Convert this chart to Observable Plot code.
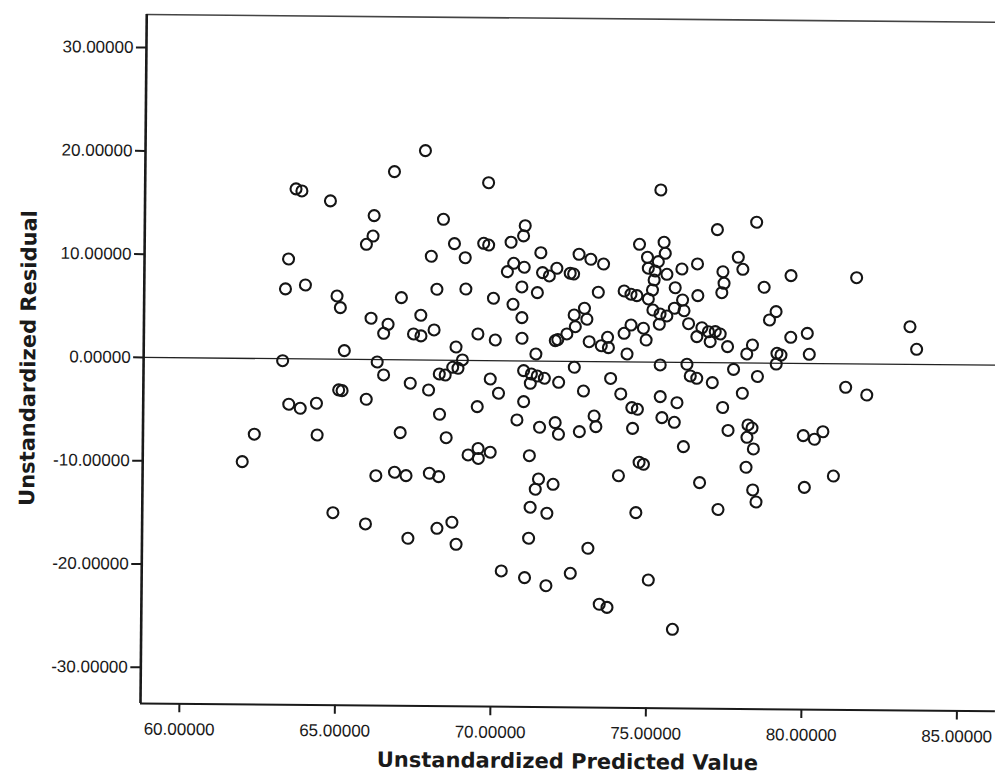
<!DOCTYPE html>
<html>
<head>
<meta charset="utf-8">
<script src="https://cdn.jsdelivr.net/npm/d3@7"></script>
<script src="https://cdn.jsdelivr.net/npm/@observablehq/plot@0.6"></script>
<style>
  html, body { margin: 0; padding: 0; background: #fff; overflow: hidden; }
  #chart svg { display: block; transform-origin: 140px 703px; transform: rotate(0.52deg); }
</style>
</head>
<body>
<div id="chart"></div>
<script>
// ---- data ----
const xTitle = "Unstandardized Predicted Value";
const yTitle = "Unstandardized Residual";
const xTicks = [60, 65, 70, 75, 80, 85];
const yTicks = [-30, -20, -10, 0, 10, 20, 30];
const xDomain = [58.75, 86.24];
const yDomain = [-33.5, 33.2];

const predicted = [
  67.75,66.76,63.60,63.79,64.71,66.12,68.35,66.09,65.88,68.71,63.38,67.97,69.06,63.29,63.93,64.95,65.06,67.02,68.16,69.09,66.05,66.60,66.46,67.65,67.42,67.66,68.08,69.49,65.20,63.22,66.26,66.47,68.79,69.00,68.86,68.69,68.26,68.45,
  69.79,75.33,77.16,70.98,70.93,69.65,69.81,70.53,71.49,70.62,70.42,70.96,71.55,71.77,72.01,72.44,72.55,72.72,73.10,73.51,70.89,71.39,69.98,70.61,70.90,70.05,70.91,71.36,71.98,72.06,72.35,72.62,72.58,72.91,72.99,73.07,73.46,73.66,73.69,73.35,74.29,74.19,74.41,74.81,74.90,74.18,74.40,74.59,74.66,75.45,75.49,74.92,75.27,74.95,75.17,75.55,75.14,75.09,74.96,75.82,76.03,76.53,76.06,75.80,76.11,75.11,75.34,75.56,75.32,76.26,76.55,77.35,77.39,77.32,76.69,76.90,77.12,76.53,76.96,77.28,77.52,75.36,76.22,76.33,76.54,72.60,70.97,71.22,71.41,71.64,71.19,69.90,73.77,77.04,72.10,
  70.17,69.49,70.98,72.90,74.10,75.37,75.91,74.46,74.64,77.38,70.77,71.50,72.00,72.11,72.78,73.25,73.31,74.49,75.43,75.83,77.56,76.13,69.53,69.54,69.92,71.18,74.71,74.85,74.05,71.48,71.38,71.95,76.66,71.22,71.76,74.62,77.26,71.18,73.09,70.31,71.06,71.75,72.53,75.04,73.47,73.72,75.83,
  67.33,67.92,65.03,65.14,63.43,63.80,64.32,65.92,68.28,62.33,64.35,67.02,68.50,69.21,61.95,66.25,66.85,67.22,67.97,68.27,64.88,65.93,67.30,68.23,68.71,68.85,
  78.42,77.84,77.99,79.54,78.68,81.65,79.07,78.86,78.32,78.14,79.55,80.08,79.11,79.24,79.09,80.15,83.38,83.60,77.72,78.49,
  78.01,81.33,82.01,78.20,78.33,78.17,78.38,79.98,80.34,80.61,78.15,78.37,78.48,80.03,80.96
];

const residual = [
  20.27,18.21,16.45,16.26,15.32,13.93,13.64,11.96,11.15,11.29,9.66,10.05,9.94,6.76,7.16,6.12,5.00,6.02,6.86,6.91,4.00,3.43,2.55,4.33,2.51,2.33,2.92,2.57,0.84,-0.19,-0.23,-1.48,1.29,0.04,-0.77,-0.68,-1.34,-1.43,
  17.22,16.67,12.88,13.09,12.10,11.35,11.19,11.48,10.49,9.44,8.63,9.07,8.56,8.25,9.00,8.53,8.46,10.37,9.90,9.45,7.16,6.62,6.04,5.47,4.19,2.00,2.19,0.68,1.99,2.09,2.65,3.36,4.49,5.15,4.09,1.92,1.54,2.36,1.36,6.71,0.76,2.76,3.57,3.27,2.13,6.86,6.55,6.42,11.39,11.61,10.54,10.14,9.73,9.08,8.82,8.51,7.95,6.98,6.11,7.22,9.04,9.54,6.04,5.23,5.00,5.04,4.66,4.48,3.67,3.75,6.47,8.81,7.69,6.78,3.37,2.99,3.00,2.50,2.03,2.78,1.56,-0.27,-0.18,-1.31,-1.53,-0.57,-0.94,-1.26,-1.45,-1.66,-2.16,-1.78,-1.62,-1.94,-2.04,
  -3.15,-4.47,-3.94,-2.86,-3.11,-3.34,-3.91,-4.43,-4.58,-4.33,-5.72,-6.41,-5.95,-7.07,-6.80,-5.27,-6.30,-6.43,-5.37,-5.81,-6.55,-8.16,-8.52,-9.48,-8.87,-9.17,-9.71,-9.90,-11.03,-11.42,-12.41,-11.92,-11.63,-14.16,-14.73,-14.59,-14.21,-17.16,-18.08,-20.35,-20.98,-21.74,-20.52,-21.10,-23.49,-23.78,-25.85,
  -2.26,-2.90,-2.97,-3.04,-4.40,-4.78,-4.28,-3.85,-5.24,-7.33,-7.35,-7.05,-7.50,-9.15,-10.00,-11.24,-10.89,-11.21,-10.96,-11.28,-14.86,-15.92,-17.27,-16.28,-15.68,-17.81,
  13.63,10.22,9.06,8.49,7.34,8.35,4.99,4.18,1.74,0.87,2.52,2.92,0.96,0.80,-0.08,0.89,3.65,1.47,-0.63,-1.30,
  -2.94,-2.27,-3.00,-6.00,-6.29,-7.20,-8.32,-6.99,-7.33,-6.59,-10.10,-12.29,-13.45,-11.99,-10.87
];

// ---- build table ----
const n = Math.min(predicted.length, residual.length);
const points = d3.range(n).map(i => ({pred: predicted[i], resid: residual[i]}));
const fmt5 = d3.format(".5f");
const fmt = d => fmt5(d).replace("\u2212", "-");

const chart = Plot.plot({
  width: 995,
  height: 778,
  marginLeft: 140,
  marginRight: 0,
  marginTop: 14,
  marginBottom: 75,
  style: {fontFamily: "Liberation Sans, Arial, sans-serif", fontSize: "17px", color: "#1a1a1a", background: "#fff"},
  x: {domain: xDomain, label: null},
  y: {domain: yDomain, label: null},
  marks: [
    Plot.axisX({ticks: xTicks, tickFormat: fmt, tickSize: 9, tickPadding: 10, strokeWidth: 2, label: null}),
    Plot.axisY({ticks: yTicks, tickFormat: fmt, tickSize: 10, tickPadding: 3, strokeWidth: 2, label: null}),
    Plot.ruleY([yDomain[1]], {stroke: "#444", strokeWidth: 1.6}),
    Plot.ruleY([0], {stroke: "#222", strokeWidth: 1.3}),
    Plot.ruleY([yDomain[0]], {stroke: "#1a1a1a", strokeWidth: 2}),
    Plot.ruleX([xDomain[0]], {stroke: "#1a1a1a", strokeWidth: 2.6}),
    Plot.dot(points, {x: "pred", y: "resid", r: 5.5, stroke: "#151515", strokeWidth: 2.1, fill: "none"}),
    Plot.text([xTitle], {text: d => d, frameAnchor: "bottom", dy: 61, fontFamily: "DejaVu Sans, sans-serif", fontWeight: "bold", fontSize: 21, fill: "#1a1a1a"}),
    Plot.text([yTitle], {text: d => d, frameAnchor: "left", textAnchor: "middle", dx: -115, rotate: -90, fontFamily: "DejaVu Sans, sans-serif", fontWeight: "bold", fontSize: 21, fill: "#1a1a1a"})
  ]
});
document.getElementById("chart").appendChild(chart);
</script>
</body>
</html>
